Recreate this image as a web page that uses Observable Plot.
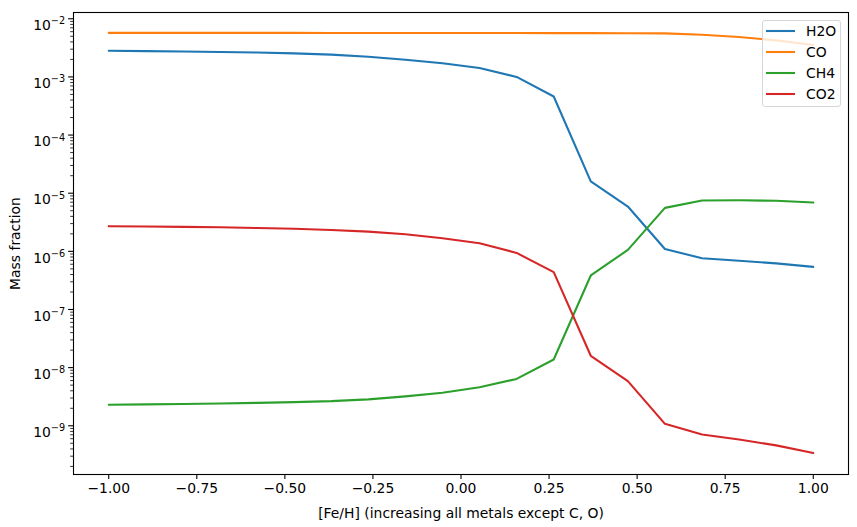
<!DOCTYPE html>
<html><head><meta charset="utf-8">
<script src="https://cdn.jsdelivr.net/npm/d3@7"></script>
<script src="https://cdn.jsdelivr.net/npm/@observablehq/plot@0.6"></script>
<style>
body{margin:0;background:#fff;}
#wrap{position:relative;width:857px;height:527px;font-family:"DejaVu Sans",sans-serif;}
#legend{position:absolute;left:762px;top:20px;width:79px;height:87px;border:1px solid #d6d6d6;border-radius:3px;background:rgba(255,255,255,0.8);box-sizing:border-box;}
.row{position:absolute;left:3px;height:14px;display:flex;align-items:center;font-size:13.9px;color:#000;}
.row span{margin-left:11px;line-height:14px;}
</style></head><body><div id="wrap"><div id="legend"></div></div>
<script>
// [Fe/H] grid
const feh = [-1, -0.8947, -0.7895, -0.6842, -0.5789, -0.4737, -0.3684, -0.2632, -0.1579, -0.0526,
             0.0526, 0.1579, 0.2632, 0.3684, 0.4737, 0.5789, 0.6842, 0.7895, 0.8947, 1];
const species = ["H2O", "CO", "CH4", "CO2"];
const colors = ["#1f77b4", "#ff7f0e", "#2ca02c", "#d62728"];
const h2o = [2.82e-3, 2.78e-3, 2.74e-3, 2.69e-3, 2.63e-3, 2.54e-3, 2.42e-3, 2.22e-3, 1.97e-3, 1.72e-3,
             1.42e-3, 1.0e-3, 4.6e-4, 1.6e-5, 5.9e-6, 1.1e-6, 7.6e-7, 6.9e-7, 6.2e-7, 5.4e-7];
const co  = [5.72e-3, 5.72e-3, 5.72e-3, 5.72e-3, 5.72e-3, 5.72e-3, 5.71e-3, 5.71e-3, 5.70e-3, 5.70e-3,
             5.69e-3, 5.68e-3, 5.67e-3, 5.66e-3, 5.64e-3, 5.6e-3, 5.3e-3, 4.85e-3, 4.25e-3, 3.55e-3];
const ch4 = [2.30e-9, 2.33e-9, 2.37e-9, 2.42e-9, 2.48e-9, 2.55e-9, 2.65e-9, 2.85e-9, 3.2e-9, 3.7e-9,
             4.6e-9, 6.4e-9, 1.38e-8, 3.85e-7, 1.06e-6, 5.6e-6, 7.5e-6, 7.55e-6, 7.4e-6, 6.9e-6];
const co2 = [2.71e-6, 2.68e-6, 2.64e-6, 2.59e-6, 2.52e-6, 2.44e-6, 2.33e-6, 2.18e-6, 1.97e-6, 1.68e-6,
             1.38e-6, 9.4e-7, 4.4e-7, 1.6e-8, 5.85e-9, 1.08e-9, 7.1e-10, 5.8e-10, 4.6e-10, 3.4e-10];
const xTicks = [-1, -0.75, -0.5, -0.25, 0, 0.25, 0.5, 0.75, 1];
const yMajor = [1e-9, 1e-8, 1e-7, 1e-6, 1e-5, 1e-4, 1e-3, 1e-2];

const seriesVals = [h2o, co, ch4, co2];
const rows = [];
species.forEach((s, i) => feh.forEach((x, j) => rows.push({species: s, x, y: seriesVals[i][j]})));

const yDomain = [Math.pow(10, -9.838), Math.pow(10, -1.892)];
const yMinor = [];
for (let e = -10; e <= -2; e++) for (let k = 2; k <= 9; k++) {
  const v = k * Math.pow(10, e);
  if (v >= yDomain[0] && v <= yDomain[1]) yMinor.push(v);
}
const fmtY = v => "10^" + String(Math.round(Math.log10(v)));

const chart = Plot.plot({
  width: 857, height: 527,
  marginLeft: 73, marginRight: 9, marginTop: 12, marginBottom: 53,
  style: {fontFamily: "DejaVu Sans", fontSize: "13.9px", color: "#000", background: "#fff"},
  x: {domain: [-1.1, 1.1]},
  y: {type: "log", domain: yDomain},
  color: {domain: species, range: colors},
  marks: [
    Plot.lineY(rows, {x: "x", y: "y", stroke: "species", strokeWidth: 2.1, clip: true}),
    Plot.frame({stroke: "#000", strokeWidth: 1.1}),
    Plot.axisX(xTicks, {tickSize: 4.9, tickPadding: 3.5, tickFormat: d3.format(".2f"), strokeWidth: 1.1,
      label: "[Fe/H] (increasing all metals except C, O)", labelAnchor: "center", labelArrow: "none", labelOffset: 43}),
    Plot.axisY(yMajor, {tickSize: 4.9, tickPadding: 3.5, tickFormat: fmtY, strokeWidth: 1.1,
      label: "Mass fraction", labelAnchor: "center", labelArrow: "none", labelOffset: 63}),
    Plot.axisY(yMinor, {tickSize: 2.8, tickFormat: () => "", strokeWidth: 0.8, label: null})
  ]
});
document.getElementById("wrap").prepend(chart);

// render 10^n as 10 with a superscript exponent (matplotlib mathtext style)
d3.select(chart).selectAll("text").each(function () {
  const t = this.textContent;
  const m = /^10\^(-?\d+)$/.exec(t);
  if (!m) return;
  const sel = d3.select(this);
  sel.text("10").attr("dy", "6.8");
  sel.append("tspan").attr("font-size", "9.7px").attr("dy", "-5.7")
    .text(m[1].replace("-", "\u2212"));
});

const legend = document.getElementById("legend");
species.forEach((s, i) => {
  const r = document.createElement("div");
  r.className = "row";
  r.style.top = (3 + i * 21) + "px";
  r.innerHTML = `<svg width="29" height="14"><line x1="0" x2="29" y1="7" y2="7" stroke="${colors[i]}" stroke-width="2.1"/></svg><span>${s}</span>`;
  legend.appendChild(r);
});
</script>
</body></html>
